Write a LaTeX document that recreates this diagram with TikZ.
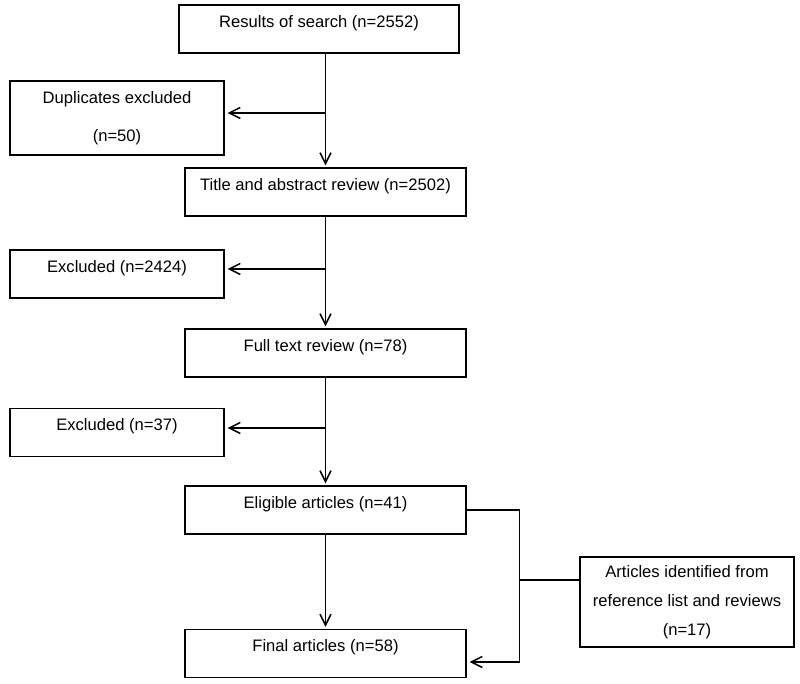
\documentclass[tikz,border=0pt]{standalone}
\usepackage{fontspec}
\setmainfont{Liberation Sans}
\usetikzlibrary{arrows.meta,positioning}

\begin{document}
\begin{tikzpicture}[x=0.5pt,y=-0.5pt,
  box/.style={draw,line width=0.65pt,inner sep=0pt,align=center,
    font=\fontsize{8.3}{14.5}\selectfont},
  onebox/.style={box,text height=11.25pt,text depth=12.75pt},
  arr/.style={line width=0.75pt,shorten >=1pt,
    -{Straight Barb[length=5.5pt,width=5.5pt,line width=0.75pt]}}]
\useasboundingbox (0,0) rectangle (800,684);

% main column
\node[onebox,minimum width=140pt] (search) at (319,29) {Results of search (n=2552)};
\node[onebox,minimum width=140.5pt] (title) at (325.5,192) {Title and abstract review (n=2502)};
\node[onebox,minimum width=140.5pt] (full) at (325.5,353) {Full text review (n=78)};
\node[onebox,minimum width=140.5pt] (elig) at (325.5,510) {Eligible articles (n=41)};
\node[onebox,minimum width=140.5pt] (final) at (325.5,653.5) {Final articles (n=58)};

% excluded boxes
\node[box,minimum width=107pt,minimum height=37pt] (dup) at (117,118)
  {Duplicates excluded\\[4.5pt](n=50)};
\node[onebox,minimum width=107pt] (exclA) at (117,274) {Excluded (n=2424)};
\node[onebox,minimum width=107pt] (exclB) at (117,432.5) {Excluded (n=37)};

% extra articles
\node[box,minimum width=107pt,minimum height=45pt] (extra) at (687,602)
  {Articles identified from\\reference list and reviews\\(n=17)};

% arrows down
\draw[arr] (search.south -| title.north) -- (title.north);
\draw[arr] (title.south) -- (full.north);
\draw[arr] (full.south) -- (elig.north);
\draw[arr] (elig.south) -- (final.north);

% arrows left
\coordinate (b1) at (325.5,113);
\coordinate (b2) at (325.5,269);
\coordinate (b3) at (325.5,428);
\draw[arr,shorten >=1.5pt] (b1) -- (b1 -| dup.east);
\draw[arr,shorten >=1.5pt] (b2) -- (b2 -| exclA.east);
\draw[arr,shorten >=1.5pt] (b3) -- (b3 -| exclB.east);

% side path
\coordinate (j) at (519,580);
\draw[arr,shorten >=1.5pt] (elig.east) -- ++(53,0) |- ([yshift=-4.25pt]final.east);
\draw[line width=0.75pt] (j) -- (j -| extra.west);
\end{tikzpicture}
\end{document}
